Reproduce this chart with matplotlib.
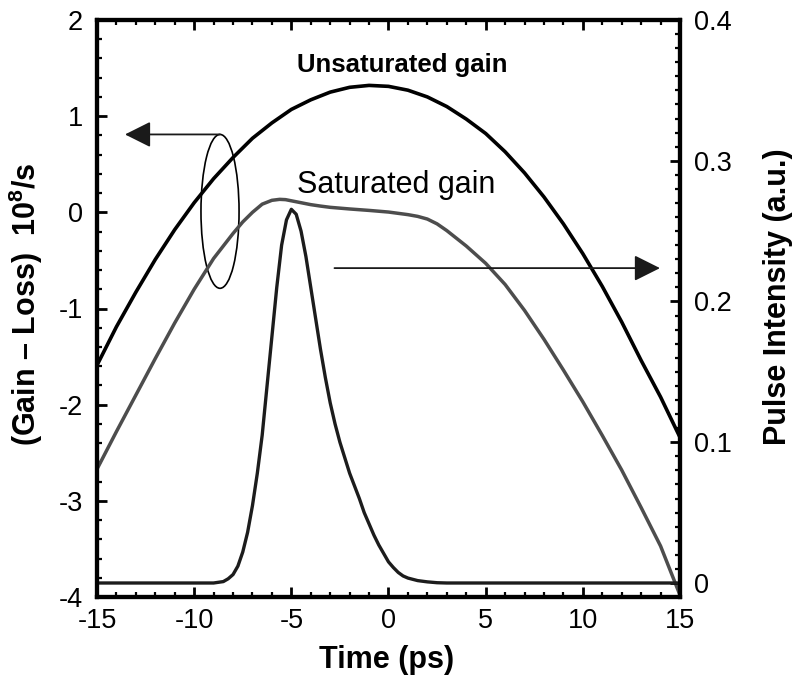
import numpy as np
import matplotlib
matplotlib.use("Agg")
import matplotlib.pyplot as plt
from matplotlib.patches import Ellipse
from matplotlib.ticker import MultipleLocator

plt.rcParams['font.family'] = ['Liberation Sans', 'DejaVu Sans']
plt.rcParams['mathtext.fontset'] = 'custom'
plt.rcParams['mathtext.rm'] = 'Liberation Sans'
plt.rcParams['mathtext.bf'] = 'Liberation Sans:bold'
plt.rcParams['axes.unicode_minus'] = False

# 未饱和增益 (左轴, 10^8/s)
t_unsat = list(range(-15, 16))
unsat_gain = [-1.59, -1.19, -0.83, -0.49, -0.18, 0.10, 0.35, 0.57, 0.77, 0.93,
              1.07, 1.17, 1.25, 1.30, 1.32, 1.31, 1.27, 1.20, 1.10, 0.97,
              0.82, 0.63, 0.41, 0.16, -0.12, -0.43, -0.77, -1.14, -1.54, -1.92,
              -2.34]

# 饱和增益 (左轴)
t_sat = [-15, -14, -13, -12, -11, -10, -9, -8, -7.5, -7, -6.5, -6, -5.6, -5.3,
         -5, -4.5, -4, -3.5, -3, -2, -1, 0, 1, 1.5, 2, 2.5, 3, 3.5, 4, 4.5,
         5, 6, 7, 8, 9, 10, 11, 12, 13, 14, 15]
sat_gain = [-2.67, -2.28, -1.90, -1.52, -1.15, -0.80, -0.48, -0.22, -0.10, 0.0,
            0.085, 0.125, 0.135, 0.132, 0.12, 0.10, 0.08, 0.065, 0.052, 0.035,
            0.02, 0.003, -0.024, -0.042, -0.07, -0.12, -0.19, -0.27, -0.35, -0.44,
            -0.53, -0.75, -1.02, -1.32, -1.64, -1.97, -2.32, -2.68, -3.07, -3.47,
            -3.98]

# 脉冲强度 (右轴)
t_pulse = [-15, -9, -8.5, -8.25, -8, -7.75, -7.5, -7.25, -7, -6.75, -6.5, -6.25,
           -6, -5.75, -5.5, -5.25, -5, -4.75, -4.5, -4.25, -4, -3.75, -3.5, -3.25,
           -3, -2.75, -2.5, -2.25, -2, -1.75, -1.5, -1.25, -1, -0.75, -0.5, -0.25,
           0, 0.25, 0.5, 0.75, 1, 1.5, 2, 2.5, 3, 15]
pulse = [0, 0, 0.001, 0.003, 0.006, 0.012, 0.022, 0.036, 0.055, 0.078, 0.105, 0.140,
         0.175, 0.210, 0.240, 0.258, 0.2655, 0.262, 0.250, 0.232, 0.210, 0.188, 0.166, 0.146,
         0.128, 0.113, 0.100, 0.089, 0.078, 0.069, 0.060, 0.050, 0.042, 0.034, 0.027, 0.021,
         0.015, 0.011, 0.0075, 0.005, 0.0035, 0.0017, 0.0008, 0.0002, 0, 0]

fig = plt.figure(figsize=(7.96, 6.79), dpi=100)
ax1 = fig.add_axes([97/796, 82/679, 583/796, 577/679])
ax2 = ax1.twinx()

ax1.plot(t_unsat, unsat_gain, color='black', lw=2.6)
ax1.plot(t_sat, sat_gain, color='#4d4d4d', lw=2.5)
ax2.plot(t_pulse, pulse, color='#1c1c1c', lw=2.4)

ax1.set_xlim(-15, 15)
ax1.set_ylim(-4, 2)
ax2.set_ylim(-0.00995, 0.4)

ax1.xaxis.set_major_locator(MultipleLocator(5))
ax1.xaxis.set_minor_locator(MultipleLocator(1))
ax1.yaxis.set_major_locator(MultipleLocator(1))
ax1.yaxis.set_minor_locator(MultipleLocator(0.2))
ax2.yaxis.set_minor_locator(MultipleLocator(0.01))
ax2.set_yticks([0, 0.1, 0.2, 0.3, 0.4])
ax2.set_yticklabels(['0', '0.1', '0.2', '0.3', '0.4'])

ax1.tick_params(axis='x', which='both', direction='in', top=True, bottom=True)
ax1.tick_params(axis='y', which='both', direction='in', left=True, right=False)
ax1.tick_params(which='major', length=7, width=2, labelsize=19.5)
ax1.tick_params(which='minor', length=3.8, width=1.6)
ax1.tick_params(axis='x', pad=8)
ax1.tick_params(axis='y', pad=10)
ax2.tick_params(axis='y', which='both', direction='in', right=True)
ax2.tick_params(which='major', length=7, width=2, labelsize=19.5, pad=10)
ax2.tick_params(which='minor', length=3.8, width=1.6)

for ax in (ax1, ax2):
    for s in ax.spines.values():
        s.set_linewidth(3)

ax1.set_xlabel('Time (ps)', fontsize=22, fontweight='bold')
ax1.set_ylabel(r'(Gain – Loss)  $\mathbf{10^{8}}$/s', fontsize=22, fontweight='bold')
ax2.set_ylabel('Pulse Intensity (a.u.)', fontsize=22, fontweight='bold')
ax1.xaxis.set_label_coords(0.497, -0.083)
ax1.yaxis.set_label_coords(-0.09, 0.508)
ax2.yaxis.set_label_coords(1.142, 0.52)

ax1.text(-4.71, 1.455, 'Unsaturated gain', fontsize=18.5, fontweight='bold',
         ha='left', va='baseline')
ax1.text(-4.71, 0.20, 'Saturated gain', fontsize=22, ha='left', va='baseline')

# 椭圆和箭头
ax1.add_patch(Ellipse((-8.67, 0.01), 1.96, 1.60, fill=False, lw=1.2, color='black'))
ax1.annotate('', xy=(-13.56, 0.81), xytext=(-8.67, 0.81),
             arrowprops=dict(arrowstyle='-|>,head_length=1.6,head_width=0.8',
                             mutation_scale=10, lw=1.3, color='#1a1a1a',
                             shrinkA=0, shrinkB=0))
ax1.annotate('', xy=(13.97, -0.58), xytext=(-2.78, -0.58),
             arrowprops=dict(arrowstyle='-|>,head_length=1.6,head_width=0.8',
                             mutation_scale=10, lw=1.3, color='#1a1a1a',
                             shrinkA=0, shrinkB=0))

plt.savefig('out.png', dpi=100)
